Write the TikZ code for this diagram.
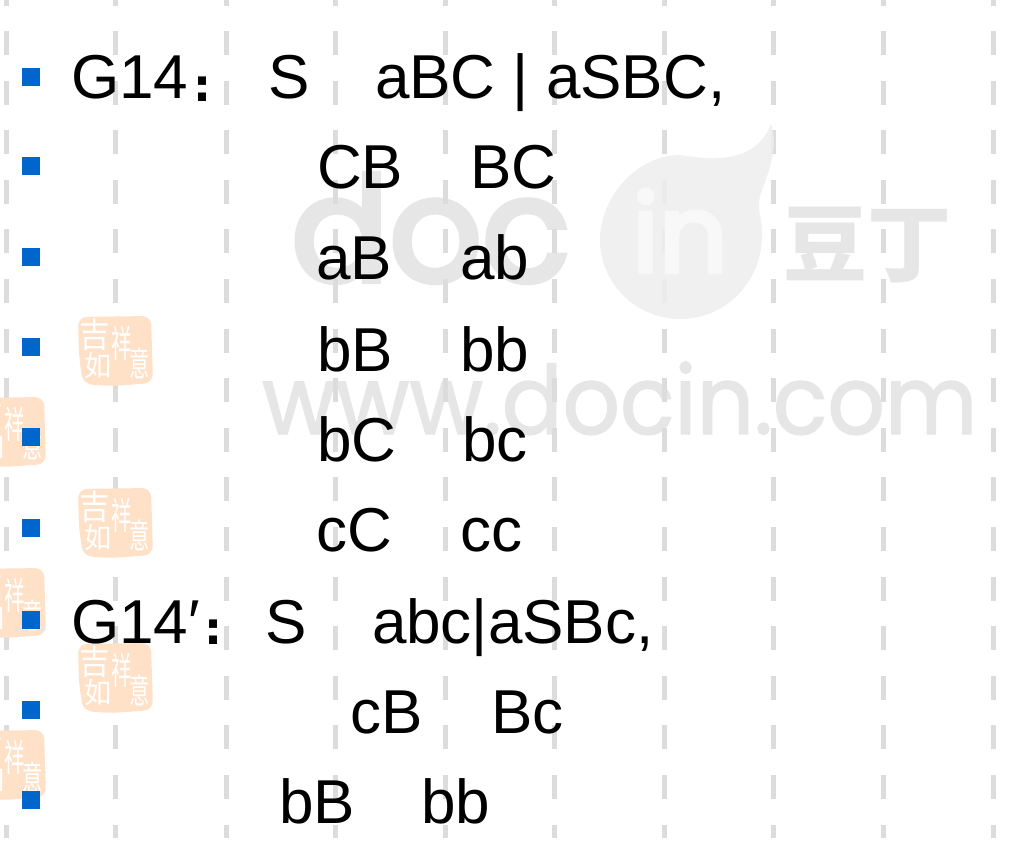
\documentclass[tikz,border=0pt]{standalone}
\usepackage{fontspec}
\setmainfont{Liberation Sans}
\newfontfamily\cjkfont{Noto Sans CJK SC}
\newfontfamily\wmurlfont[FakeBold=1.5,FakeStretch=.945]{Poppins}
\newfontfamily\wmfat[FakeBold=4]{Poppins}
\newfontfamily\colonfont{DejaVu Sans}
\usetikzlibrary{calc}
\definecolor{dashgrey}{HTML}{DCDCDC}
\definecolor{wmgrey}{HTML}{E6E6E6}
\definecolor{dropgrey}{HTML}{EEEEEE}
\definecolor{dropin}{HTML}{F8F8F8}
\definecolor{bulletblue}{HTML}{0066CC}
\definecolor{sealpeach}{HTML}{FFE1C8}
\tikzset{
  bulletbox/.style={fill=bulletblue,draw=none,inner sep=0pt,minimum width=18.5pt,minimum height=18.5pt},
  rule/.style={inner sep=0pt,outer sep=0pt,anchor=base west,text=black,font=\fontsize{62}{62}\selectfont},
  colonmark/.style={rule,font=\colonfont\bfseries\fontsize{45}{45}\selectfont},
  sealglyph/.style={inner sep=0pt,text=white,font=\cjkfont\fontsize{34}{34}\selectfont},
  wmtext/.style={inner sep=0pt,anchor=base west,text=wmgrey},
}
\newcommand{\seal}[2]{%
  \begin{scope}[shift={(#1,#2)}]
    \fill[sealpeach,rounded corners=9pt] (0,1) -- (73,0) -- (75,67) -- (33,70) -- (5,68) -- (1,40) -- cycle;
    \node[sealglyph] at (17,19) {\scalebox{.9}[1]{吉}};
    \node[sealglyph] at (20,50) {\scalebox{.8}[.85]{如}};
    \node[sealglyph] at (44,27) {\scalebox{.6}[1.1]{祥}};
    \node[sealglyph] at (62,47) {\scalebox{.6}[1]{意}};
  \end{scope}}
\begin{document}
\begin{tikzpicture}[x=1pt,y=-1pt]
\useasboundingbox (0,0) rectangle (1012,850);
\fill[white] (0,0) rectangle (1012,850);
% watermark words, under the guides
\node[wmtext,font=\wmfat\fontsize{145}{145}\selectfont] (wmdoc) at (291,281) {doc};
\node[wmtext,font=\wmurlfont\fontsize{95}{95}\selectfont] (wmurl) at (262,434) {www.docin.com};
\node[inner sep=0pt,anchor=center,text=wmgrey,font=\cjkfont\bfseries\fontsize{84}{84}\selectfont] (wmcn) at (867,245) {豆丁};
% dashed guides
\foreach \x in {6,115.5,226,335,445,554,664,773,883,993}{
  \draw[dashgrey,line width=5pt] (\x,-18) -- (\x,6);
  \foreach \k in {0,...,16}{
    \draw[dashgrey,line width=5pt] (\x,31+49.6*\k) -- (\x,{min(55+49.6*\k,838)});
  }
}
% drop
\fill[dropgrey,opacity=.85] (680,155)
  .. controls (710,160) and (755,165) .. (771,124)
  .. controls (780,150) and (765,180) .. (760,196)
  .. controls (758,205) and (759,212) .. (761,220)
  .. controls (769,275) and (730,319) .. (680,319)
  .. controls (637,319) and (600,284) .. (600,240)
  .. controls (600,197) and (637,155) .. (680,155) -- cycle;
\node[wmtext,text=dropin,font=\wmfat\fontsize{108}{108}\selectfont] (wmin) at (632,272) {in};
% seals
\seal{78}{316}
\seal{78}{488}
\seal{78}{643}
\seal{-29}{397}
\seal{-29}{568}
\seal{-29}{730}
% bullets
\foreach \y [count=\i] in {77,166,257,347,437,528,620,710,800}{
  \node[bulletbox] (b\i) at (31,\y) {};
}
% text
\node[rule] (t1a) at (71,99) {G14};
\node[colonmark] (t1b) at (193.5,101.3) {:};
\node[rule] (t1c) at (268,99) {S};
\node[rule] (t1d) at (375,99) {aBC | aSBC,};
\node[rule] (t2a) at (317,189) {CB};
\node[rule] (t2b) at (470,189) {BC};
\node[rule] (t3a) at (316,280) {aB};
\node[rule] (t3b) at (460,280) {ab};
\node[rule] (t4a) at (317,371) {bB};
\node[rule] (t4b) at (460,371) {bb};
\node[rule] (t5a) at (317,461) {bC};
\node[rule] (t5b) at (462,461) {bc};
\node[rule] (t6a) at (316,551) {cC};
\node[rule] (t6b) at (460,551) {cc};
\node[rule] (t7a) at (71,643) {G14′};
\node[colonmark] (t7b) at (204.5,644.5) {:};
\node[rule] (t7c) at (265,643) {S};
\node[rule] (t7d) at (372,643) {abc|aSBc,};
\node[rule] (t8a) at (350,733) {cB};
\node[rule] (t8b) at (491,733) {Bc};
\node[rule] (t9a) at (279,823) {bB};
\node[rule] (t9b) at (421,823) {bb};
\end{tikzpicture}
\end{document}
